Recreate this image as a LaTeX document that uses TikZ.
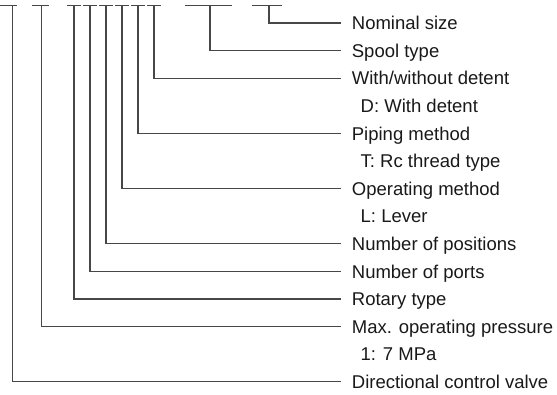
\documentclass[tikz,border=0pt]{standalone}
\usepackage{fontspec}
\setmainfont{Liberation Sans}
\begin{document}
\begin{tikzpicture}[x=1pt,y=-1pt,
  conn/.style={draw=black!72,line width=1.2pt},
  lab/.style={anchor=base west,inner sep=0pt,font=\fontsize{18.5}{22}\selectfont,text=black!90}]
\useasboundingbox (0,0) rectangle (557,394);
% top bars
\foreach \a/\b in {0/17,32/48.5,67/81,83/97,99/113,115/129,131/145,147/161,185/232,252/282}
  \draw[conn] (\a,5.5) -- (\b,5.5);
% tick tops
\coordinate (t1) at (269,5.5);
\coordinate (t2) at (210,5.5);
\coordinate (t3) at (154,5.5);
\coordinate (t4) at (138,5.5);
\coordinate (t5) at (122,5.5);
\coordinate (t6) at (106,5.5);
\coordinate (t7) at (90,5.5);
\coordinate (t8) at (74,5.5);
\coordinate (t9) at (41.3,5.5);
\coordinate (t10) at (12.3,5.5);
% line ends
\coordinate (e1) at (341,23);
\coordinate (e2) at (341,50.6);
\coordinate (e3) at (341,78.2);
\coordinate (e4) at (341,133.4);
\coordinate (e5) at (341,188.6);
\coordinate (e6) at (341,243.8);
\coordinate (e7) at (341,271.4);
\coordinate (e8) at (341,299);
\coordinate (e9) at (341,326.6);
\coordinate (e10) at (341,381.8);
\foreach \k in {1,...,10}
  \draw[conn] (t\k) |- (e\k);
% labels
\node[lab] (l1) at (351.7,29.6) {Nominal size};
\node[lab] (l2) at (351.7,57.2) {Spool type};
\node[lab] (l3) at (351.7,84.8) {With/without detent};
\node[lab] (s3) at (360.5,112.4) {D: With detent};
\node[lab] (l4) at (351.7,140) {Piping method};
\node[lab] (s4) at (360.5,167.6) {T: Rc thread type};
\node[lab] (l5) at (351.7,195.2) {Operating method};
\node[lab] (s5) at (360.5,222.8) {L: Lever};
\node[lab] (l6) at (351.7,250.4) {Number of positions};
\node[lab] (l7) at (351.7,278) {Number of ports};
\node[lab] (l8) at (351.7,305.6) {Rotary type};
\node[lab] (l9) at (351.7,333.2) {Max. operating pressure};
\node[lab] (s9) at (360.5,360.8) {1: 7 MPa};
\node[lab] (l10) at (351.7,388.4) {Directional control valve};
\end{tikzpicture}
\end{document}
